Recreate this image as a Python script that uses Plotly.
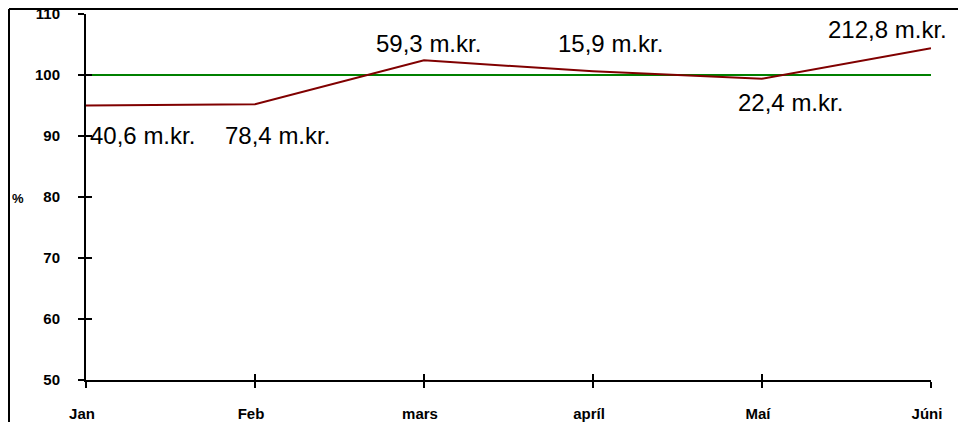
import plotly.graph_objects as go

months = ["Jan", "Feb", "mars", "apríl", "Maí", "Júni"]
pct = [95.0, 95.2, 102.4, 100.6, 99.4, 104.4]
target = [100, 100, 100, 100, 100, 100]
amounts = ["40,6 m.kr.", "78,4 m.kr.", "59,3 m.kr.", "15,9 m.kr.", "22,4 m.kr.", "212,8 m.kr."]
y_ticks = [50, 60, 70, 80, 90, 100, 110]

# label offsets (px) relative to each point
label_dx = [56, 22, 4, 17, 28, -44]
label_dy = [-30, -31, 17, 28, -24, 19]

FONT = "Liberation Sans, Arial, sans-serif"
ML, MT, PW, PH = 78, 6, 845, 366
W, H = 966, 422
idx = list(range(len(months)))

fig = go.Figure()
fig.add_trace(go.Scatter(x=idx, y=target, mode="lines",
                         line=dict(color="#008000", width=2), hoverinfo="skip"))
fig.add_trace(go.Scatter(x=idx, y=pct, mode="lines",
                         line=dict(color="#800000", width=2)))

for i, txt in enumerate(amounts):
    fig.add_annotation(x=idx[i], y=pct[i], text=txt, showarrow=False,
                       xshift=label_dx[i], yshift=label_dy[i],
                       font=dict(family=FONT, size=24, color="black"))

axis_common = dict(showgrid=False, zeroline=False, showline=True,
                   linecolor="black", linewidth=2, tickcolor="black",
                   tickwidth=2, ticklen=6, automargin=False)

fig.update_layout(
    width=W, height=H,
    margin=dict(l=ML, r=W - ML - PW, t=MT, b=H - MT - PH, autoexpand=False),
    paper_bgcolor="white", plot_bgcolor="white",
    showlegend=False,
    font=dict(family=FONT, size=15, color="black"),
    xaxis=dict(range=[0, 5], tickvals=idx, ticktext=months, ticks="outside",
               tickfont=dict(family=FONT, size=15, weight="bold"),
               ticklabelstandoff=13, ticklabelshift=-4,
               ticklabeloverflow="allow", **axis_common),
    yaxis=dict(range=[50, 110], tickvals=y_ticks, ticks="outside",
               tickfont=dict(family=FONT, size=15, weight="bold"),
               ticklabelstandoff=15, ticklabeloverflow="allow", **axis_common),
    xaxis2=dict(range=[0, 5], tickvals=idx, ticks="inside", showticklabels=False,
                overlaying="x", side="bottom", anchor="y", **axis_common),
    yaxis2=dict(range=[50, 110], tickvals=y_ticks, ticks="inside", showticklabels=False,
                overlaying="y", side="left", anchor="x", **axis_common),
)

# dummy invisible trace to activate the overlay axes
fig.add_trace(go.Scatter(x=[0], y=[50], xaxis="x2", yaxis="y2", mode="markers",
                         marker=dict(opacity=0), hoverinfo="skip"))

fig.add_annotation(text="%", xref="paper", yref="paper", x=(2 - ML) / PW, y=(MT + PH - 190) / PH,
                   xanchor="left", showarrow=False,
                   font=dict(family=FONT, size=13, weight="bold"))

# outer frame (top and left edges of the figure)
fx = -(ML - 1) / PW
fy = 1 + (MT - 1) / PH
fig.add_shape(type="line", xref="paper", yref="paper", x0=fx, x1=1.2,
              y0=fy, y1=fy, line=dict(color="black", width=2))
fig.add_shape(type="line", xref="paper", yref="paper", x0=fx, x1=fx,
              y0=-0.3, y1=fy, line=dict(color="black", width=2))

fig.write_html("out.html")
